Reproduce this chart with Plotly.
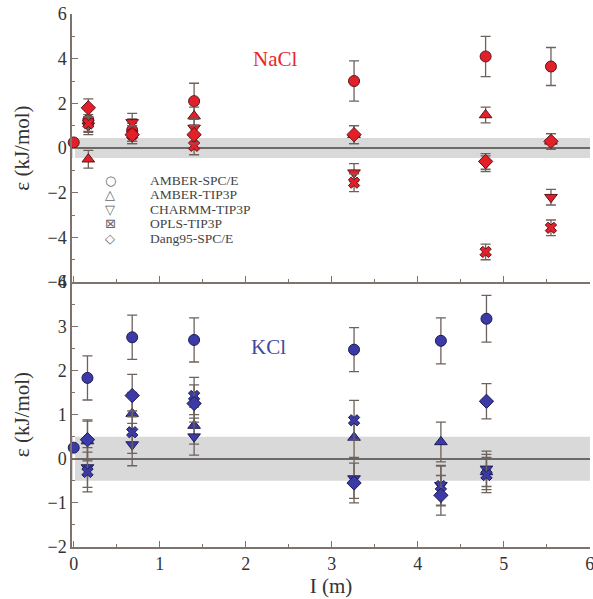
import plotly.graph_objects as go

# ---------------- data ----------------
models = ["AMBER-SPC/E", "AMBER-TIP3P", "CHARMM-TIP3P", "OPLS-TIP3P", "Dang95-SPC/E"]
symbols = ["circle", "triangle-up", "triangle-down", "x", "diamond"]
legend_glyphs = ["○", "△", "▽", "⊠", "◇"]

I_zero = [0.0]
eps_zero_nacl = [0.25]
eps_zero_kcl = [0.25]

I_nacl = [0.17, 0.68, 1.40, 3.26, 4.79, 5.55]
nacl_amber_spce = [1.25, 0.80, 2.10, 3.00, 4.10, 3.65]
nacl_amber_tip3p = [-0.50, 0.70, 1.43, 0.60, 1.48, 0.30]
nacl_charmm_tip3p = [1.00, 1.15, 0.90, -1.10, -0.70, -2.20]
nacl_opls_tip3p = [1.10, 0.60, 0.10, -1.55, -4.65, -3.57]
nacl_dang95_spce = [1.80, 0.60, 0.60, 0.60, -0.60, 0.30]
nacl_err_spce = [0.50, 0.50, 0.80, 0.90, 0.90, 0.85]
nacl_err_other = [0.40, 0.40, 0.40, 0.40, 0.35, 0.35]

I_kcl = [0.16, 0.68, 1.40, 3.26, 4.27, 4.80]
kcl_amber_spce = [1.83, 2.75, 2.69, 2.47, 2.67, 3.17]
kcl_amber_tip3p = [0.40, 1.02, 0.75, 0.48, 0.38, -0.30]
kcl_charmm_tip3p = [-0.20, 0.32, 0.50, -0.45, -0.60, -0.23]
kcl_opls_tip3p = [-0.30, 0.60, 1.42, 0.87, -0.62, -0.37]
kcl_dang95_spce = [0.43, 1.43, 1.25, -0.55, -0.83, 1.30]
kcl_err_spce = [0.50, 0.50, 0.50, 0.50, 0.52, 0.53]
kcl_err_other = [0.45, 0.48, 0.42, 0.45, 0.45, 0.40]

band_nacl = 0.45
band_kcl = 0.5

# ---------------- style ----------------
FONT = "Liberation Serif"
RED, RED_EDGE = "#e3202a", "#5a1518"
BLUE, BLUE_EDGE = "#3b3aa6", "#1c1c55"
ERR = "#6e625c"
AXIS = "#7d726c"
W, H = 593, 599
M = dict(l=72, r=3, t=14, b=52)

fig = go.Figure()

nacl_series = [nacl_amber_spce, nacl_amber_tip3p, nacl_charmm_tip3p, nacl_opls_tip3p, nacl_dang95_spce]
kcl_series = [kcl_amber_spce, kcl_amber_tip3p, kcl_charmm_tip3p, kcl_opls_tip3p, kcl_dang95_spce]


def add(x, y, err, sym, fill, edge, xa, ya):
    fig.add_trace(go.Scatter(
        x=x, y=y, mode="markers", xaxis=xa, yaxis=ya, showlegend=False,
        error_y=dict(type="data", array=err, visible=True, color=ERR, thickness=1.3, width=5),
        marker=dict(symbol=sym, size=11 if sym != "x" else 10, color=fill,
                    line=dict(color=edge, width=1)),
    ))


# NaCl (top panel)
for k, (vals, sym) in enumerate(zip(nacl_series, symbols)):
    err = nacl_err_spce if k == 0 else nacl_err_other
    add(I_nacl, vals, err, sym, RED, RED_EDGE, "x2", "y2")
fig.add_trace(go.Scatter(x=I_zero, y=eps_zero_nacl, mode="markers", xaxis="x2", yaxis="y2",
                         showlegend=False, cliponaxis=False,
                         marker=dict(symbol="circle", size=11, color=RED, line=dict(color=RED_EDGE, width=1))))

# KCl (bottom panel)
for k, (vals, sym) in enumerate(zip(kcl_series, symbols)):
    err = kcl_err_spce if k == 0 else kcl_err_other
    add(I_kcl, vals, err, sym, BLUE, BLUE_EDGE, "x", "y")
fig.add_trace(go.Scatter(x=I_zero, y=eps_zero_kcl, mode="markers", xaxis="x", yaxis="y",
                         showlegend=False, cliponaxis=False,
                         marker=dict(symbol="circle", size=11, color=BLUE, line=dict(color=BLUE_EDGE, width=1))))

# bands
fig.add_shape(type="rect", xref="x2 domain", yref="y2", x0=0, x1=1, y0=-band_nacl, y1=band_nacl,
              fillcolor="rgba(170,170,170,0.45)", line_width=0, layer="below")
fig.add_shape(type="rect", xref="x domain", yref="y", x0=0, x1=1, y0=-band_kcl, y1=band_kcl,
              fillcolor="rgba(170,170,170,0.45)", line_width=0, layer="below")

# legend as text (compact spacing like the reference)
pw = W - M["l"] - M["r"]
ph = H - M["t"] - M["b"]


def px_to_paper(xp, yp):
    return (xp - M["l"]) / pw, 1 - (yp - M["t"]) / ph


annotations = []
for i, (name, glyph) in enumerate(zip(models, legend_glyphs)):
    yp = 180 + i * 14.6
    gx, gy = px_to_paper(110, yp)
    tx, _ = px_to_paper(148, yp)
    annotations.append(dict(text=glyph, x=gx, y=gy, xref="paper", yref="paper", showarrow=False,
                            xanchor="center", yanchor="middle",
                            font=dict(family="DejaVu Sans", size=13, color="#666")))
    annotations.append(dict(text=name, x=tx, y=gy, xref="paper", yref="paper", showarrow=False,
                            xanchor="left", yanchor="middle",
                            font=dict(family=FONT, size=13.5, color="#444")))

annotations += [
    dict(text="NaCl", x=2.34, y=4.0, xref="x2", yref="y2", showarrow=False,
         font=dict(family=FONT, size=21, color="#e8262c")),
    dict(text="KCl", x=2.26, y=2.53, xref="x", yref="y", showarrow=False,
         font=dict(family=FONT, size=21, color="#3d4ba0")),
]

axis_common = dict(showline=True, linecolor=AXIS, linewidth=1.5, ticks="inside", ticklen=6,
                   tickcolor=AXIS, showgrid=False, automargin=False,
                   tickfont=dict(family=FONT, size=18, color="#333"))

fig.update_layout(
    width=W, height=H,
    margin=M,
    showlegend=False,
    plot_bgcolor="white", paper_bgcolor="white",
    font=dict(family=FONT, color="#333"),
    xaxis=dict(range=[-0.02, 6.004], tickvals=[0, 1, 2, 3, 4, 5, 6], anchor="y",
               ticklabeloverflow="allow",
               minor=dict(dtick=0.5, ticks="inside", ticklen=3, tickcolor=AXIS),
               title=dict(text="I (m)", font=dict(family=FONT, size=21, color="#333"), standoff=0),
               **axis_common),
    xaxis2=dict(range=[-0.02, 6.004], tickvals=[0, 1, 2, 3, 4, 5, 6], anchor="y2", matches="x",
                showticklabels=False,
                minor=dict(dtick=0.5, ticks="inside", ticklen=3, tickcolor=AXIS),
                **axis_common),
    yaxis=dict(domain=[0, 0.497], range=[-2, 4], dtick=1, anchor="x",
               minor=dict(dtick=0.5, ticks="inside", ticklen=3, tickcolor=AXIS),
               zeroline=True, zerolinecolor="#6a6a6a", zerolinewidth=2,
               title=dict(text="ε (kJ/mol)", font=dict(family=FONT, size=21, color="#333"), standoff=12),
               **axis_common),
    yaxis2=dict(domain=[0.497, 1], range=[-6, 6], dtick=2, anchor="x2",
                minor=dict(dtick=1, ticks="inside", ticklen=3, tickcolor=AXIS),
                zeroline=True, zerolinecolor="#6a6a6a", zerolinewidth=2,
                title=dict(text="ε (kJ/mol)", font=dict(family=FONT, size=21, color="#333"), standoff=12),
                **axis_common),
    annotations=annotations,
)

fig.write_html("out.html", config={"displayModeBar": False},
               post_script="document.body.style.margin='0';")
